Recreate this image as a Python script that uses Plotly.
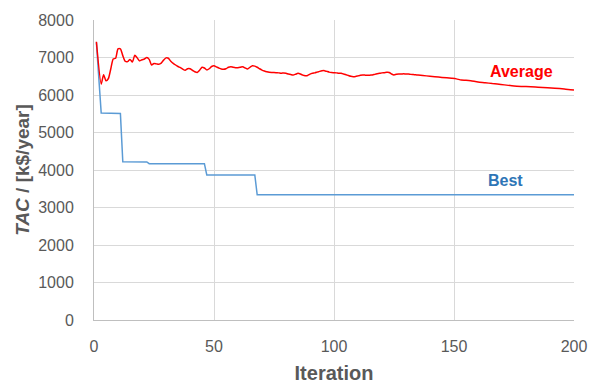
import plotly.graph_objects as go

# Best (minimum) TAC per iteration
best_iter = [1, 2, 3, 11, 12, 22, 23, 46, 47, 67, 68, 200]
best_tac = [7400, 6450, 5520, 5510, 4220, 4215, 4170, 4168, 3870, 3867, 3340, 3340]

# Average TAC per iteration
avg_iter = [1, 3, 4, 5, 6, 7, 8, 9, 10, 11, 12, 13, 14, 15, 16, 17, 18, 19, 20,
            21, 22, 23, 24, 25, 26, 27, 28, 29, 30, 31, 32, 33, 34, 35, 36, 37, 38, 39, 40,
            41, 42, 43, 44, 45, 46, 47, 48, 49, 50, 51, 52, 53, 54, 55, 56, 57, 58, 59, 60,
            61, 62, 63, 64, 65, 66, 67, 68, 69, 70, 71, 72, 73, 74, 75, 76, 77, 78, 79, 80,
            81, 82, 83, 84, 85, 86, 87, 88, 89, 90, 91, 92, 93, 94, 95, 96, 97, 98, 99, 100,
            101, 102, 103, 104, 105, 106, 107, 108, 109, 110, 111, 112, 113, 114, 115, 116,
            117, 118, 119, 120, 121, 122, 123, 124, 125, 126, 127, 128, 129, 130, 131, 132,
            133, 134, 135, 137, 140, 142, 145, 149, 151, 153, 155, 157, 160, 163, 166, 168,
            171, 175, 178, 182, 185, 189, 192, 196, 200]
avg_tac = [7420, 6290, 6540, 6380, 6440, 6700, 6960, 6980, 7230, 7230, 7050, 6900, 6890, 6950, 6880, 7060, 6990, 6910, 6940,
           6960, 7000, 6950, 6800, 6840, 6830, 6820, 6850, 6930, 6990, 6980, 6900, 6845, 6800, 6760, 6730, 6690, 6660, 6700, 6700,
           6660, 6620, 6600, 6660, 6740, 6720, 6670, 6700, 6760, 6780, 6750, 6720, 6695, 6685, 6700, 6740, 6755, 6740, 6730, 6728,
           6740, 6755, 6720, 6695, 6740, 6780, 6770, 6740, 6700, 6665, 6640, 6620, 6605, 6600, 6600, 6595, 6590, 6578, 6590, 6580,
           6560, 6545, 6533, 6555, 6578, 6560, 6530, 6515, 6520, 6555, 6578, 6590, 6610, 6630, 6645, 6650, 6630, 6610, 6600, 6595,
           6590, 6580, 6578, 6560, 6540, 6520, 6500, 6490, 6495, 6510, 6525, 6533, 6530, 6525, 6530, 6533,
           6550, 6565, 6578, 6590, 6595, 6605, 6600, 6560, 6535, 6555, 6560, 6560, 6565, 6560, 6560, 6550,
           6545, 6540, 6533, 6520, 6500, 6488, 6470, 6445, 6430, 6400, 6395, 6382, 6345, 6328, 6305, 6293,
           6270, 6240, 6230, 6222, 6210, 6195, 6180, 6160, 6133]

x_ticks = [0, 50, 100, 150, 200]
y_ticks = [0, 1000, 2000, 3000, 4000, 5000, 6000, 7000, 8000]

GREY = "#595959"
FONT = "Liberation Sans, Arial, sans-serif"

fig = go.Figure()
fig.add_trace(go.Scatter(x=best_iter, y=best_tac, mode="lines", name="Best",
                         line=dict(color="#5B9BD5", width=1.5)))
fig.add_trace(go.Scatter(x=avg_iter, y=avg_tac, mode="lines", name="Average",
                         line=dict(color="#FF0000", width=1.5, shape="spline", smoothing=0.6)))

fig.add_annotation(x=178.3, y=6620, text="<b>Average</b>", showarrow=False,
                   font=dict(family=FONT, size=16, color="#FF0000"))
fig.add_annotation(x=171.5, y=3715, text="<b>Best</b>", showarrow=False,
                   font=dict(family=FONT, size=16, color="#2E75B6"))

fig.update_layout(
    width=589, height=384,
    margin=dict(l=94, r=15, t=20, b=64),
    paper_bgcolor="white", plot_bgcolor="white",
    showlegend=False,
    font=dict(family=FONT, color=GREY),
)
fig.update_xaxes(
    range=[0, 200], tickvals=x_ticks, ticktext=[str(v) for v in x_ticks],
    automargin=False,
    showgrid=True, gridcolor="#D9D9D9", gridwidth=1,
    showline=True, linecolor="#BFBFBF", linewidth=1,
    zeroline=False, ticks="", ticklabelstandoff=12,
    tickfont=dict(family=FONT, size=16, color=GREY),
    title=dict(text="<b>Iteration</b>", font=dict(family=FONT, size=20, color=GREY), standoff=13),
)
fig.update_yaxes(
    range=[0, 8000], tickvals=y_ticks, ticktext=[str(v) for v in y_ticks],
    automargin=False,
    showgrid=True, gridcolor="#D9D9D9", gridwidth=1,
    showline=True, linecolor="#BFBFBF", linewidth=1,
    zeroline=False, ticks="", ticklabelstandoff=16,
    tickfont=dict(family=FONT, size=16, color=GREY),
    title=dict(text="<b><i>TAC</i> / [k$/year]</b>", font=dict(family=FONT, size=19, color=GREY), standoff=3),
)

fig.write_html("out.html", config={"displayModeBar": False},
               post_script="document.body.style.margin='0';document.body.style.overflow='hidden';")
